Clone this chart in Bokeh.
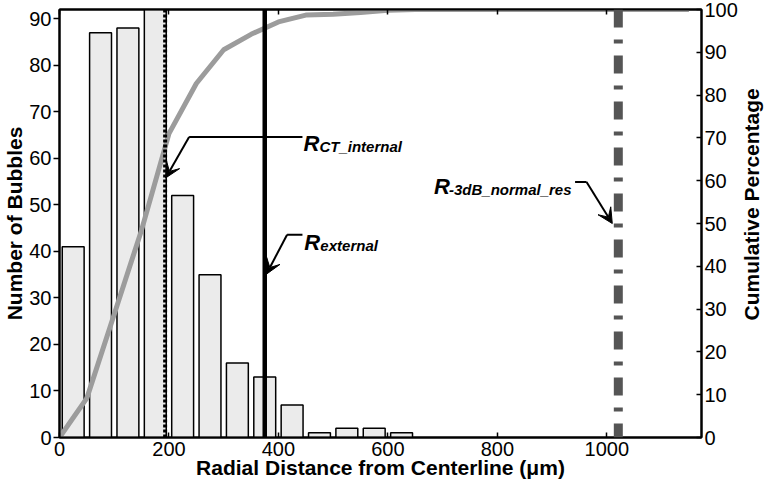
import math
from bokeh.plotting import figure
from bokeh.layouts import row
from bokeh.models import Range1d, LinearAxis, Arrow, VeeHead, Span, ColumnDataSource, FixedTicker
from bokeh.core.properties import value
from bokeh.embed import file_html
from bokeh.resources import INLINE

# ---- data ----
bin_centers = [25, 75, 125, 175, 225, 275, 325, 375, 425, 475, 525, 575, 625]
bubble_counts = [41, 87, 88, 100, 52, 35, 16, 13, 7, 1, 2, 2, 1]
cum_x = [0, 50, 100, 150, 200, 250, 300, 350, 400, 450, 500, 550, 600, 650,
         700, 750, 800, 850, 900, 950, 1000, 1050, 1100, 1150]
cum_pct = [0, 9.2, 28.8, 48.5, 71.0, 82.7, 90.6, 94.2, 97.1, 98.7, 98.9, 99.3, 99.8, 100,
           100, 100, 100, 100, 100, 100, 100, 100, 100, 100]
x_ticks = [0, 200, 400, 600, 800, 1000]
left_ticks = [0, 10, 20, 30, 40, 50, 60, 70, 80, 90]
right_ticks = [0, 10, 20, 30, 40, 50, 60, 70, 80, 90, 100]

x_label = "Radial Distance from Centerline (μm)"
left_label = "Number of Bubbles"
right_label = "Cumulative Percentage"

r_ct_internal = 193
r_external = 375
r_3db = 1021

# annotation labels
ann_sub = ["CT_internal", "external", "-3dB_normal_res"]
ann_x = [445.6, 447.4, 684.2]
ann_y = [63.1, 41.9, 54.0]
ann_sub_dx = [16, 16, 15]
lead_x0 = [236.8, 415.8, 942.0]
lead_x1 = [443.9, 443.9, 963.0]
lead_y = [64.6, 43.6, 54.9]
arrow_x0 = [236.8, 415.8, 963.0]
arrow_tip_x = [194.0, 378.0, 1010.0]
arrow_tip_y = [55.8, 35.1, 46.0]

FONT = "Liberation Sans"
TOTAL_W, H = 764, 481
SIDE_W = 24

p = figure(width=TOTAL_W - SIDE_W, height=H, x_range=Range1d(0, 1173), y_range=Range1d(0, 92),
           output_backend="svg", toolbar_location=None,
           min_border_top=9, min_border_left=0, min_border_right=0, min_border_bottom=0)
p.extra_y_ranges = {"pct": Range1d(0, 100)}
p.grid.visible = False
p.outline_line_color = "black"
p.outline_line_width = 2
p.background_fill_color = "white"
p.border_fill_color = "white"

# bars
p.vbar(x=bin_centers, top=bubble_counts, width=40, bottom=0,
       fill_color="#ebebeb", line_color="black", line_width=1.5)

# cumulative curve
p.line(cum_x, cum_pct, y_range_name="pct", line_color="#9c9c9c", line_width=5)

# vertical reference lines
p.add_layout(Span(location=r_ct_internal, dimension="height", line_color="black",
                  line_width=4, line_dash="3 2"))
p.add_layout(Span(location=r_external, dimension="height", line_color="black",
                  line_width=4.5))
p.add_layout(Span(location=r_3db, dimension="height", line_color="#555555",
                  line_width=9, line_dash="18 12 4 12"))

# annotations
src = ColumnDataSource(dict(x=ann_x, y=ann_y, r=["R"] * 3, sub=ann_sub, dx=ann_sub_dx))
p.text(x="x", y="y", text="r", source=src, text_font=value(FONT),
       text_font_style="bold italic", text_font_size="22px",
       text_baseline="alphabetic", text_align="left", text_color="black")
p.text(x="x", y="y", text="sub", source=src, x_offset="dx", y_offset=3,
       text_font=value(FONT), text_font_style="bold italic", text_font_size="15px",
       text_baseline="alphabetic", text_align="left", text_color="black")
p.segment(x0=lead_x0, y0=lead_y, x1=lead_x1, y1=lead_y, line_color="black", line_width=2)
for i in range(3):
    p.add_layout(Arrow(end=VeeHead(size=15, line_color="black", fill_color="black", line_width=1),
                       x_start=arrow_x0[i], y_start=lead_y[i],
                       x_end=arrow_tip_x[i], y_end=arrow_tip_y[i],
                       line_color="black", line_width=2))

# axes
xa = p.xaxis[0]
xa.ticker = FixedTicker(ticks=x_ticks)
xa.axis_label = x_label
xa.major_tick_in = 5
xa.major_tick_out = 0
xa.minor_tick_line_color = None
xa.major_label_standoff = 4
xa.axis_label_standoff = -3

ya = p.yaxis[0]
ya.ticker = FixedTicker(ticks=left_ticks)
ya.axis_label = left_label
ya.major_tick_in = 0
ya.major_tick_out = 6
ya.minor_tick_line_color = None
ya.major_label_standoff = 2
ya.axis_label_standoff = 0

ra = LinearAxis(y_range_name="pct", ticker=FixedTicker(ticks=right_ticks))
ra.major_tick_in = 5
ra.major_tick_out = 0
ra.minor_tick_line_color = None
ra.major_label_standoff = 3
p.add_layout(ra, "right")

ta = LinearAxis(ticker=FixedTicker(ticks=x_ticks))
ta.major_tick_in = 5
ta.major_tick_out = 0
ta.minor_tick_line_color = None
ta.major_label_text_font_size = "1px"
ta.major_label_text_color = None
ta.major_label_standoff = 0
p.add_layout(ta, "above")

for ax in [xa, ya, ra, ta]:
    ax.axis_line_width = 2
    ax.axis_line_color = "black"
    ax.major_tick_line_width = 1.5
    ax.major_tick_line_color = "black"
    ax.major_label_text_font = FONT
    ax.axis_label_text_font = FONT
    ax.axis_label_text_font_style = "bold"
    ax.axis_label_text_font_size = "21px"
    ax.axis_label_text_color = "black"
for ax in [xa, ya, ra]:
    ax.major_label_text_font_size = "20px"
    ax.major_label_text_color = "black"

# narrow side strip carrying the right-hand axis title (reads bottom to top)
p2 = figure(width=SIDE_W, height=H, x_range=Range1d(0, SIDE_W), y_range=Range1d(0, H),
            output_backend="svg", toolbar_location=None, min_border=0,
            x_axis_location=None, y_axis_location=None)
p2.grid.visible = False
p2.outline_line_color = None
p2.background_fill_color = "white"
p2.border_fill_color = "white"
p2.text(x=[11], y=[262], text=[right_label], angle=math.pi / 2,
        text_font=value(FONT), text_font_style="bold", text_font_size="21px",
        text_align="center", text_baseline="middle", text_color="black")

layout = row(p, p2, spacing=0)
open("out.html", "w").write(file_html(layout, INLINE))
